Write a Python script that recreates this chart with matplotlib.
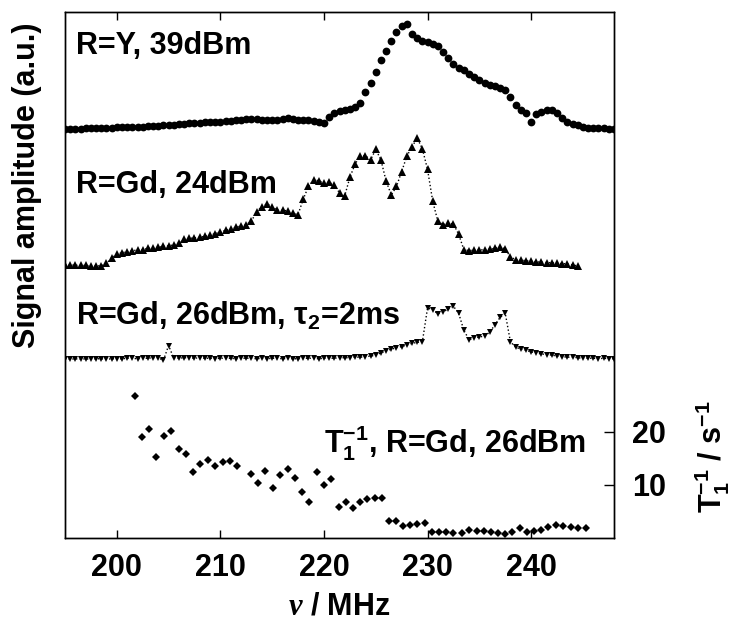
import numpy as np
import matplotlib
matplotlib.use("Agg")
import matplotlib.pyplot as plt

plt.rcParams['font.family'] = ['Liberation Sans', 'DejaVu Sans']
plt.rcParams['font.weight'] = 'bold'
plt.rcParams['mathtext.fontset'] = 'custom'
plt.rcParams['mathtext.rm'] = 'Liberation Sans:bold'
plt.rcParams['mathtext.bf'] = 'Liberation Sans:bold'
plt.rcParams['mathtext.sf'] = 'Liberation Sans:bold'
plt.rcParams['mathtext.it'] = 'Liberation Serif:italic'

# frequency grids (MHz)
freq_y = np.arange(195.0, 248.01, 0.5)
freq_gd24 = np.arange(195.0, 244.51, 0.5)
freq_gd26 = np.arange(195.0, 248.01, 0.5)

# R=Y, 39dBm  (a.u., above its own baseline)
sig_y = [0.0, 0.05, 0.1, 0.1, 0.15, 0.2, 0.2, 0.25, 0.3, 0.3,
         0.35, 0.4, 0.4, 0.45, 0.5, 0.5, 0.55, 0.6, 0.65, 0.7,
         0.75, 0.8, 0.9, 1.0, 1.1, 1.2, 1.25, 1.3, 1.35, 1.4,
         1.4, 1.5, 1.6, 1.7, 1.8, 2.0, 2.0, 1.9, 1.8, 1.75,
         1.7, 1.8, 1.9, 2.05, 2.0, 1.8, 1.75, 1.7, 1.6, 1.4,
         1.1, 2.3, 3.0, 3.4, 3.6, 3.8, 4.2, 5.0, 7.0, 8.8,
         10.8, 13.0, 14.8, 16.6, 18.3, 19.5, 19.8, 18.0, 17.2, 16.7,
         16.4, 16.1, 15.6, 14.6, 13.4, 12.2, 11.6, 11.1, 10.4, 9.8,
         9.2, 8.8, 8.4, 8.1, 7.8, 7.4, 6.0, 4.6, 3.6, 3.0,
         1.3, 2.9, 3.3, 3.7, 3.6, 3.0, 2.1, 1.4, 1.0, 0.7,
         0.5, 0.3, 0.25, 0.2, 0.15, 0.1, 0.0]

# R=Gd, 24dBm
sig_gd24 = [0.0, 0.0, -0.05, -0.1, -0.1, -0.2, -0.2, -0.15, 0.3, 1.3,
            2.0, 2.3, 2.5, 2.7, 2.8, 2.9, 3.1, 3.2, 3.3, 3.5,
            3.6, 3.8, 4.1, 4.8, 5.0, 5.1, 5.2, 5.4, 5.6, 5.9,
            6.2, 6.5, 6.8, 7.1, 7.4, 7.6, 8.3, 10.0, 11.0, 11.5,
            11.0, 10.3, 10.3, 10.2, 9.7, 9.5, 12.4, 14.8, 16.0, 15.9,
            15.4, 15.6, 15.0, 13.6, 13.0, 16.5, 19.0, 20.6, 20.6, 19.8,
            21.8, 19.8, 15.8, 13.2, 14.8, 17.6, 20.5, 22.3, 23.9, 21.9,
            18.0, 12.0, 8.2, 7.6, 7.9, 7.7, 5.8, 2.9, 2.7, 2.8,
            2.8, 2.9, 3.0, 3.1, 3.4, 3.0, 1.5, 1.0, 0.9, 0.8,
            0.65, 0.6, 0.5, 0.45, 0.4, 0.3, 0.25, 0.2, 0.0, -0.2]

# R=Gd, 26dBm, tau2=2ms
sig_gd26 = [0.0, -0.1, 0.0, -0.1, 0.0, -0.1, 0.0, 0.0, -0.1, 0.0,
            0.0, 0.0, 0.1, 0.1, 0.0, 0.1, 0.1, 0.2, 0.2, -0.3,
            2.5, 0.1, 0.1, 0.2, 0.2, 0.1, 0.2, 0.1, 0.1, 0.0,
            0.1, 0.1, 0.1, 0.0, 0.1, 0.1, 0.1, 0.0, 0.1, 0.0,
            0.1, 0.1, 0.0, 0.1, 0.0, 0.0, 0.1, 0.1, 0.1, 0.0,
            0.1, 0.1, 0.1, 0.2, 0.2, 0.2, 0.3, 0.3, 0.4, 0.5,
            0.7, 1.1, 1.5, 1.8, 2.1, 2.3, 2.6, 2.9, 3.1, 3.2,
            9.6, 9.2, 8.5, 8.8, 9.4, 9.9, 8.6, 5.4, 3.6, 3.9,
            4.1, 4.3, 5.0, 6.4, 7.8, 8.6, 3.2, 2.2, 1.8, 1.6,
            1.3, 1.1, 0.9, 0.8, 0.7, 0.5, 0.4, 0.3, 0.3, 0.2,
            0.1, 0.1, 0.1, 0.0, 0.1, 0.0, 0.0]

# vertical offsets of the stacked spectra
offset_y, offset_gd24, offset_gd26 = 77.1, 51.5, 33.8

# T1^-1 (s^-1), R=Gd, 26dBm
freq_t1 = [201.75, 202.44, 203.13, 203.82, 204.58, 205.27, 206.0, 206.65, 207.38, 208.07,
           208.76, 209.45, 210.21, 210.9, 211.59, 212.97, 213.66, 214.35, 215.11, 215.8,
           216.5, 217.19, 217.88, 218.6, 219.29, 219.98, 220.67, 221.43, 222.12, 222.81,
           223.5, 224.2, 224.89, 225.58, 226.27, 226.96, 227.65, 228.34, 229.03, 229.72,
           230.41, 231.1, 231.79, 232.48, 233.35, 234.04, 234.73, 235.42, 236.11, 236.8,
           237.49, 238.18, 238.97, 239.56, 240.25, 240.94, 241.63, 242.43, 243.12, 243.81,
           244.57, 245.26]
rate_t1 = [26.7, 19.1, 20.5, 15.2, 19.2, 20.1, 16.8, 15.8, 12.5, 13.9,
           14.8, 13.6, 14.4, 14.6, 13.5, 12.0, 10.3, 12.6, 9.5, 11.8,
           13.0, 11.3, 8.6, 6.7, 12.4, 10.0, 11.1, 5.9, 6.7, 5.7,
           6.7, 7.3, 7.5, 7.6, 3.2, 3.2, 2.3, 2.5, 2.6, 2.9,
           1.2, 1.2, 1.2, 0.9, 0.9, 1.5, 1.3, 1.3, 1.2, 1.0,
           0.7, 1.2, 1.8, 1.2, 1.3, 1.5, 2.0, 2.5, 2.3, 2.1,
           1.8, 1.9]

FS = 22

fig = plt.figure(figsize=(7.38, 6.31), dpi=100)
ax = fig.add_axes([65 / 738, 1 - 538 / 631, 549 / 738, 526 / 631])

ax.plot(freq_y, np.array(sig_y) + offset_y, 'o', color='black', ms=5.6, mew=0)
ax.plot(freq_gd24, np.array(sig_gd24) + offset_gd24, '^:', color='black', ms=5.2, mew=0, lw=1)
ax.plot(freq_gd26, np.array(sig_gd26) + offset_gd26, 'v:', color='black', ms=5.0, mew=0, lw=1)

ax.set_xlim(195, 248)
ax.set_ylim(0, 99.2)
ax.set_xticks([200, 210, 220, 230, 240])
ax.set_yticks([])
ax.tick_params(axis='x', which='both', direction='in', top=True, length=6, width=1,
               labelsize=FS, pad=11)
for lbl in ax.get_xticklabels():
    lbl.set_fontweight('bold')
for s in ax.spines.values():
    s.set_linewidth(1.0)
ax.set_xlabel(r'$\mathit{\nu}$ / MHz', fontsize=FS, fontweight='bold', labelpad=6)

ax2 = ax.twinx()
ax2.plot(freq_t1, rate_t1, 'D', color='black', ms=4.2, mew=0)
ax2.set_ylim(0, 99.2)
ax2.set_yticks([10, 20])
ax2.tick_params(axis='y', direction='in', length=7, width=1, labelsize=FS, pad=13)
for lbl in ax2.get_yticklabels():
    lbl.set_fontweight('bold')
for s in ax2.spines.values():
    s.set_linewidth(1.0)

ax.text(0.02, 0.92, 'R=Y, 39dBm', transform=ax.transAxes, fontsize=FS,
        fontweight='bold', va='baseline')
ax.text(0.02, 0.656, 'R=Gd, 24dBm', transform=ax.transAxes, fontsize=FS,
        fontweight='bold', va='baseline')
ax.text(0.02, 0.405, r'R=Gd, 26dBm, $\mathrm{\tau_2}$=2ms', transform=ax.transAxes,
        fontsize=FS, fontweight='bold', va='baseline')
ax.text(0.949, 0.162, r'$\mathrm{T_1^{-1}}$, R=Gd, 26dBm', transform=ax.transAxes,
        fontsize=FS, fontweight='bold', va='baseline', ha='right')

fig.text(27 / 738, 1 - 185 / 631, 'Signal amplitude (a.u.)', rotation=90,
         ha='center', va='center', fontsize=FS, fontweight='bold')
fig.text(712 / 738, 1 - 457 / 631, r'$\mathrm{T_1^{-1}}$ / s$^{\mathrm{-1}}$', rotation=90,
         ha='center', va='center', fontsize=FS, fontweight='bold')

fig.savefig('out.png', dpi=100)
